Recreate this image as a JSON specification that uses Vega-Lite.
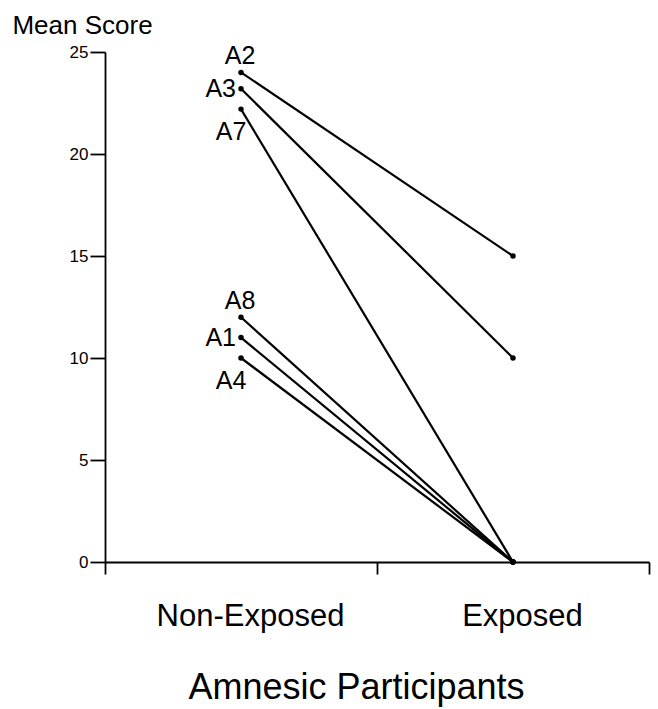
{
  "$schema": "https://vega.github.io/schema/vega-lite/v6.json",
  "width": 544,
  "height": 510,
  "autosize": {"type": "none"},
  "padding": {"left": 105, "top": 52, "right": 9, "bottom": 147},
  "background": "white",
  "config": {
    "font": "Liberation Sans",
    "view": {"stroke": null},
    "axis": {"grid": false, "domainColor": "black", "tickColor": "black", "labelColor": "black", "titleColor": "black", "domainWidth": 1.8, "tickWidth": 1.8}
  },
  "data": {
    "values": [
      {"participant": "A2", "condition": "Non-Exposed", "score": 24},
      {"participant": "A2", "condition": "Exposed", "score": 15},
      {"participant": "A3", "condition": "Non-Exposed", "score": 23.2},
      {"participant": "A3", "condition": "Exposed", "score": 10},
      {"participant": "A7", "condition": "Non-Exposed", "score": 22.2},
      {"participant": "A7", "condition": "Exposed", "score": 0},
      {"participant": "A8", "condition": "Non-Exposed", "score": 12},
      {"participant": "A8", "condition": "Exposed", "score": 0},
      {"participant": "A1", "condition": "Non-Exposed", "score": 11},
      {"participant": "A1", "condition": "Exposed", "score": 0},
      {"participant": "A4", "condition": "Non-Exposed", "score": 10},
      {"participant": "A4", "condition": "Exposed", "score": 0}
    ]
  },
  "encoding": {
    "x": {
      "field": "condition",
      "type": "nominal",
      "scale": {"type": "point", "domain": ["start", "Non-Exposed", "mid", "Exposed", "end"], "padding": 0},
      "axis": {
        "title": "Amnesic Participants",
        "titleFontSize": 36,
        "titleFontWeight": "normal",
        "titleX": 251,
        "titleY": 136,
        "titleAlign": "center",
        "titleBaseline": "alphabetic",
        "labelExpr": "datum.value == 'Non-Exposed' || datum.value == 'Exposed' ? datum.value : ''",
        "labelAngle": 0,
        "labelFontSize": 31,
        "labelBaseline": "alphabetic",
        "labelPadding": 51,
        "labelOffset": 9,
        "labelLimit": 0,
        "labelOverlap": false,
        "tickSize": 12,
        "tickOpacity": {"condition": {"test": "datum.value == 'Non-Exposed' || datum.value == 'Exposed'", "value": 0}, "value": 1}
      }
    },
    "y": {
      "field": "score",
      "type": "quantitative",
      "scale": {"domain": [0, 25]},
      "axis": {
        "values": [0, 5, 10, 15, 20, 25],
        "tickSize": 15,
        "labelPadding": 2,
        "labelFontSize": 17,
        "title": "Mean Score",
        "titleFontSize": 26,
        "titleFontWeight": "normal",
        "titleAngle": 0,
        "titleX": -23,
        "titleY": -19,
        "titleAlign": "center",
        "titleBaseline": "alphabetic"
      }
    }
  },
  "layer": [
    {"mark": {"type": "line", "color": "black", "strokeWidth": 2.2}, "encoding": {"detail": {"field": "participant"}}},
    {"mark": {"type": "circle", "color": "black", "size": 30, "opacity": 1}},
    {
      "transform": [{"filter": "datum.condition == 'Non-Exposed' && (datum.participant == 'A2' || datum.participant == 'A8')"}],
      "mark": {"type": "text", "fontSize": 25, "dy": -8, "dx": -1, "baseline": "alphabetic", "align": "center", "color": "black"},
      "encoding": {"text": {"field": "participant"}}
    },
    {
      "transform": [{"filter": "datum.condition == 'Non-Exposed' && (datum.participant == 'A3' || datum.participant == 'A1')"}],
      "mark": {"type": "text", "fontSize": 25, "dx": -5, "baseline": "middle", "align": "right", "color": "black"},
      "encoding": {"text": {"field": "participant"}}
    },
    {
      "transform": [{"filter": "datum.condition == 'Non-Exposed' && (datum.participant == 'A7' || datum.participant == 'A4')"}],
      "mark": {"type": "text", "fontSize": 25, "dy": 31, "dx": -10, "baseline": "alphabetic", "align": "center", "color": "black"},
      "encoding": {"text": {"field": "participant"}}
    }
  ]
}
